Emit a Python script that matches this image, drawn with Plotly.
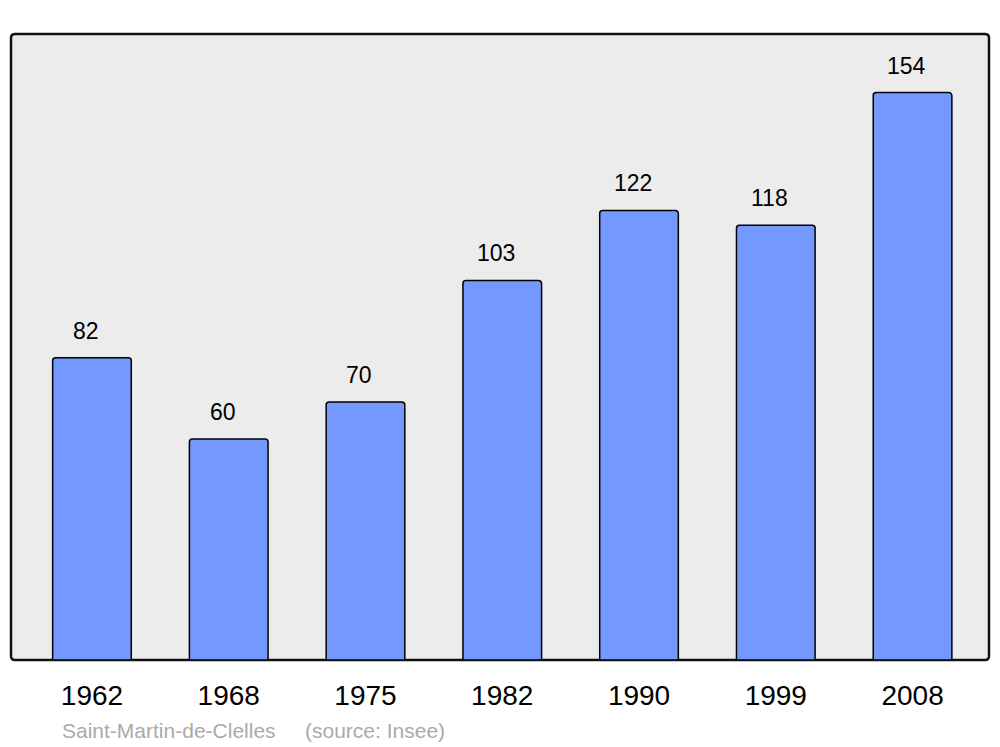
import plotly.graph_objects as go

years = ["1962", "1968", "1975", "1982", "1990", "1999", "2008"]
population = [82, 60, 70, 103, 122, 118, 154]
commune = "Saint-Martin-de-Clelles"
source = "(source: Insee)"

W, H = 1000, 747
L, R, T, B = 11, 11, 34, 87
pw, ph = W - L - R, H - T - B
FONT = "Liberation Sans, Arial, sans-serif"

fig = go.Figure()
fig.add_trace(go.Bar(
    x=years, y=population, width=0.575,
    marker=dict(color="#7399ff", line=dict(color="#000000", width=1.5), cornerradius=3),
    hoverinfo="skip",
))

for i, v in enumerate(population):
    fig.add_annotation(x=i, y=v, xref="x", yref="y", text=str(v), showarrow=False,
                       yanchor="bottom", yshift=12, xshift=-6,
                       font=dict(family=FONT, size=23, color="#000"))

# rounded frame
rx, ry = 4 / pw, 4 / ph
path = (f"M {rx},0 L {1-rx},0 Q 1,0 1,{ry} L 1,{1-ry} Q 1,1 {1-rx},1 "
        f"L {rx},1 Q 0,1 0,{1-ry} L 0,{ry} Q 0,0 {rx},0 Z")
fig.add_shape(type="path", path=path, xref="paper", yref="paper",
              line=dict(color="#111111", width=2.5), fillcolor="#ececec", layer="below")

fig.add_annotation(x=(60 - L) / pw, y=(660 - 730) / ph, xref="paper", yref="paper",
                   text=commune, showarrow=False, xanchor="left", yanchor="middle",
                   font=dict(family=FONT, size=21, color="#aaaaaa"))
fig.add_annotation(x=(303 - L) / pw, y=(660 - 730) / ph, xref="paper", yref="paper",
                   text=source, showarrow=False, xanchor="left", yanchor="middle",
                   font=dict(family=FONT, size=21, color="#aaaaaa"))

fig.update_layout(
    width=W, height=H,
    margin=dict(l=L, r=R, t=T, b=B),
    paper_bgcolor="#ffffff", plot_bgcolor="#ffffff",
    showlegend=False,
    xaxis=dict(type="category", range=[-0.592, 6.559], showgrid=False, zeroline=False,
               showline=False, ticks="", ticklabelstandoff=16,
               tickfont=dict(family=FONT, size=28, color="#000")),
    yaxis=dict(range=[0, 169.9], showgrid=False, zeroline=False, showline=False,
               showticklabels=False, ticks=""),
)

fig.write_html("out.html", config={"displayModeBar": False},
               post_script="document.body.style.margin='0';document.body.style.overflow='hidden';")
